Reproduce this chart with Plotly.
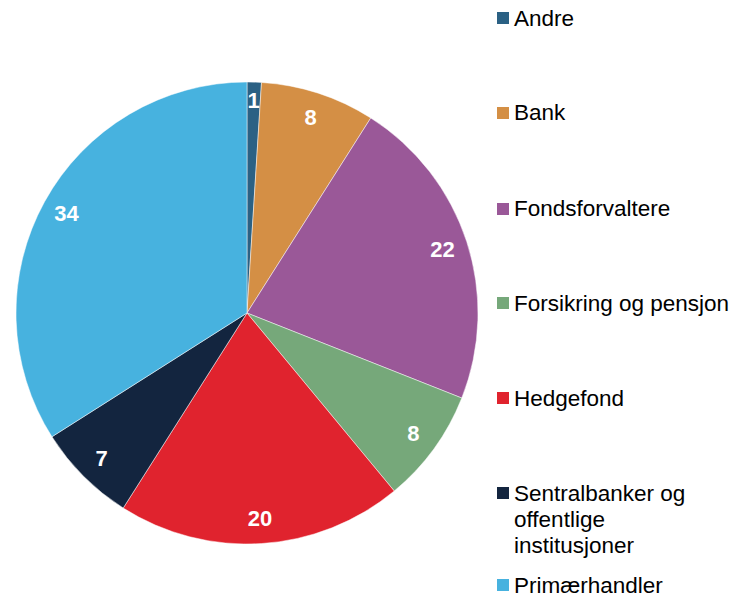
import plotly.graph_objects as go

# ---------------------------------------------------------------
# Data
# ---------------------------------------------------------------
labels = ["Andre", "Bank", "Fondsforvaltere", "Forsikring og pensjon",
          "Hedgefond", "Sentralbanker og offentlige institusjoner", "Primærhandler"]
legend_lines = [["Andre"], ["Bank"], ["Fondsforvaltere"], ["Forsikring og pensjon"],
                ["Hedgefond"], ["Sentralbanker og", "offentlige", "institusjoner"],
                ["Primærhandler"]]
values = [1, 8, 22, 8, 20, 7, 34]
colors = ["#2b6184", "#d48f45", "#9a5898", "#76a87a", "#e0232e", "#13253f", "#47b2df"]

W, H = 736, 596
FONT = "Liberation Sans, Arial, sans-serif"
CX, CY, R = 247, 313, 231


def domain(rad):
    return dict(x=[(CX - rad) / W, (CX + rad) / W],
                y=[1 - (CY + rad) / H, 1 - (CY - rad) / H])


def label_ring(texts, hole, rad):
    # transparent ring drawn on top of the pie, only used to place value labels
    return go.Pie(
        labels=labels, values=values, sort=False, direction="clockwise", rotation=0,
        hole=hole, text=texts, textinfo="text",
        marker=dict(colors=["rgba(0,0,0,0)"] * len(values), line=dict(width=0)),
        textposition="inside", insidetextorientation="horizontal",
        insidetextfont=dict(color="white", size=22, family=FONT, weight="bold"),
        showlegend=False, hoverinfo="skip", domain=domain(rad),
    )


fig = go.Figure()

# full pie, no text
fig.add_trace(go.Pie(
    labels=labels, values=values, sort=False, direction="clockwise", rotation=0,
    marker=dict(colors=colors, line=dict(color="rgba(255,255,255,0.6)", width=0.8)),
    textinfo="none", showlegend=False, domain=domain(R),
))

small = [v < 2 for v in values]
fig.add_trace(label_ring(["" if s else str(v) for v, s in zip(values, small)], 0.78, R))
fig.add_trace(label_ring([str(v) if s else "" for v, s in zip(values, small)], 0.88, R * 0.95))

# hand-made legend with wide spacing
legend_y = [18, 113, 209, 303, 398, 493, 585]
for lines, col, yc in zip(legend_lines, colors, legend_y):
    fig.add_shape(type="rect", xref="paper", yref="paper",
                  x0=497 / W, x1=509 / W, y0=1 - (yc + 6) / H, y1=1 - (yc - 6) / H,
                  fillcolor=col, line=dict(width=0))
    for k, txt in enumerate(lines):
        fig.add_annotation(text=txt, xref="paper", yref="paper",
                           x=512 / W, y=1 - (yc + 26 * k) / H,
                           xanchor="left", yanchor="middle",
                           align="left", showarrow=False,
                           font=dict(size=22.5, color="black", family=FONT))

fig.update_layout(
    width=W, height=H,
    margin=dict(l=0, r=0, t=0, b=0),
    paper_bgcolor="white", plot_bgcolor="white",
    uniformtext=dict(minsize=22, mode="show"),
)

fig.write_html("out.html", config={"displayModeBar": False},
               post_script="document.body.style.margin='0';")
